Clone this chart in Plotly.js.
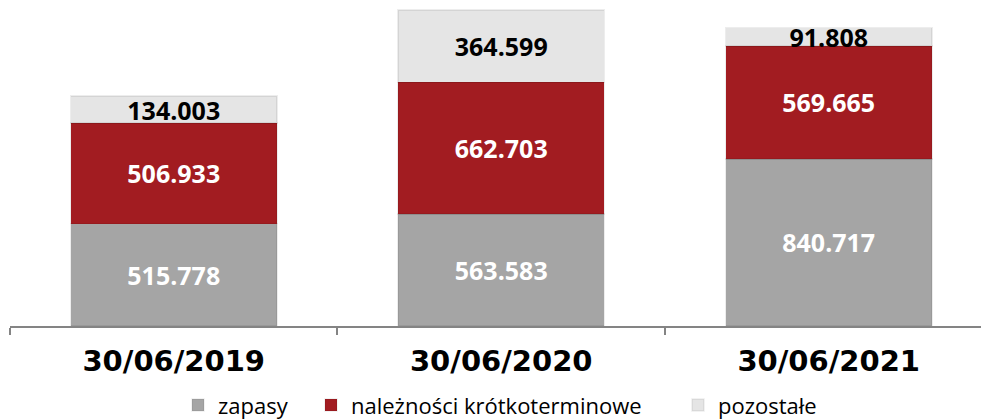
<!DOCTYPE html>
<html>
<head>
<meta charset="utf-8">
<script src="https://cdn.plot.ly/plotly-3.0.1.min.js"></script>
<style>html,body{margin:0;padding:0;background:#fff;}#chart{width:981px;height:420px;}</style>
</head>
<body>
<div id="chart"></div>
<script>
const categories = ["30/06/2019", "30/06/2020", "30/06/2021"];
const zapasy = [515.778, 563.583, 840.717];
const naleznosci = [506.933, 662.703, 569.665];
const pozostale = [134.003, 364.599, 91.808];
const seriesNames = ["zapasy", "należności krótkoterminowe", "pozostałe"];

const labelFont = "'Open Sans', 'Noto Sans', sans-serif";
function mk(name, vals, color, txtColor, legendId) {
  return {
    type: "bar", name: name, x: categories, y: vals, legend: legendId,
    marker: {color: color, line: {color: "rgba(0,0,0,0.07)", width: 1.5}},
    width: 0.63,
    texttemplate: "%{y:.3f}", textposition: "inside", insidetextanchor: "middle",
    textangle: 0, constraintext: "none",
    textfont: {family: labelFont, size: 25, color: txtColor, weight: "bold"},
    hoverinfo: "skip"
  };
}
const data = [
  mk(seriesNames[0], zapasy, "#a5a5a5", "#ffffff", "legend"),
  mk(seriesNames[1], naleznosci, "#a21c21", "#ffffff", "legend2"),
  mk(seriesNames[2], pozostale, "#e5e5e5", "#000000", "legend3")
];
function leg(px) {
  return {
    orientation: "h", xref: "container", yref: "container",
    x: px / 981, xanchor: "left", y: 0.035, yanchor: "middle",
    font: {family: labelFont, size: 22, color: "#000000"},
    bgcolor: "rgba(0,0,0,0)", borderwidth: 0,
    itemclick: false, itemdoubleclick: false
  };
}
const layout = {
  width: 981, height: 420, barmode: "stack",
  margin: {l: 10, r: 0, t: 0, b: 94},
  paper_bgcolor: "#ffffff", plot_bgcolor: "#ffffff",
  uniformtext: {mode: "show", minsize: 25},
  xaxis: {
    type: "category", range: [-0.5, 2.465],
    showline: true, linecolor: "#848484", linewidth: 2,
    ticks: "outside", tickson: "boundaries", ticklen: 7, tickcolor: "#848484", tickwidth: 2,
    ticklabelstandoff: 8,
    tickfont: {family: "'DejaVu Sans', sans-serif", size: 29, color: "#000000", weight: "bold"},
    showgrid: false, zeroline: false, fixedrange: true
  },
  yaxis: {range: [0, 1641], visible: false, showgrid: false, zeroline: false, fixedrange: true},
  showlegend: true,
  legend: leg(178),
  legend2: leg(311),
  legend3: leg(678)
};
Plotly.newPlot("chart", data, layout, {displayModeBar: false, staticPlot: true});
</script>
</body>
</html>
